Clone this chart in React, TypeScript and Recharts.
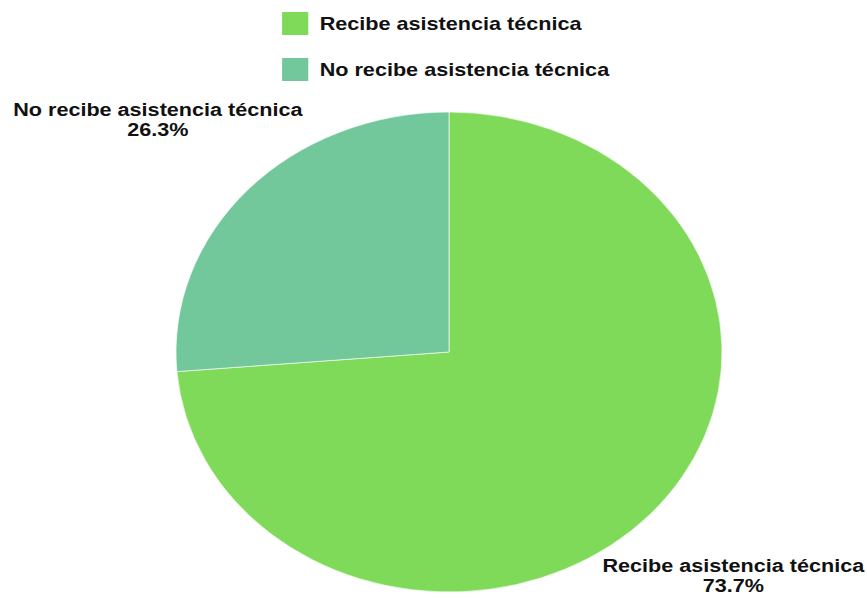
import React from 'react';
import { PieChart, Pie, Cell } from 'recharts';

const categories = ['Recibe asistencia técnica', 'No recibe asistencia técnica'];
const shares = [73.7, 26.3];
const COLORS = ['#7fda59', '#72c79b'];

const data = categories.map((name, i) => ({ name, value: shares[i] }));

// the reference is stretched sideways, so draw at a narrower width and scale X
const SX = 273 / 240;
const W = 763;
const H = 598;
const RADIAN = Math.PI / 180;
const FONT = '"Liberation Sans", Arial, sans-serif';

const renderLabel = (props: any) => {
  const { cx, cy, midAngle, name, percent } = props;
  const r = 344;
  const x = cx - 3 + r * Math.cos(-midAngle * RADIAN);
  const y = cy - 2 + r * Math.sin(-midAngle * RADIAN);
  // keep the lower label inside the picture
  const y2 = Math.min(y + 19, H - 6);
  const y1 = y2 - 20;
  return (
    <text x={x} y={y1} textAnchor="middle" fill="#111" fontFamily={FONT} fontSize={19} fontWeight="bold">
      <tspan x={x} y={y1}>{name}</tspan>
      <tspan x={x} y={y2}>{(percent * 100).toFixed(1)}%</tspan>
    </text>
  );
};

function ChartLegend() {
  return (
    <div style={{ position: 'absolute', top: 12, left: 248, fontFamily: FONT, fontSize: 19, fontWeight: 'bold', color: '#111' }}>
      {categories.map((name, i) => (
        <div key={`leg-${i}`} style={{ display: 'flex', alignItems: 'center', height: 23, marginBottom: 23 }}>
          <span style={{ display: 'inline-block', width: 23, height: 23, background: COLORS[i], marginRight: 10 }} />
          <span>{name}</span>
        </div>
      ))}
    </div>
  );
}

export default function App() {
  return (
    <div style={{ width: 867, height: H, overflow: 'hidden', background: '#fff' }}>
      <style>{'body { margin: 0; }'}</style>
      <div style={{ position: 'relative', width: W, height: H, transform: `scaleX(${SX})`, transformOrigin: '0 0' }}>
        <PieChart width={W} height={H} margin={{ top: 0, right: 0, bottom: 0, left: 0 }}>
          <Pie
            data={data}
            dataKey="value"
            nameKey="name"
            cx={449 / SX}
            cy={352}
            outerRadius={240}
            startAngle={90}
            endAngle={-270}
            stroke="#ffffff"
            strokeWidth={0.6}
            label={renderLabel}
            labelLine={false}
            isAnimationActive={false}
          >
            {data.map((entry, index) => (
              <Cell key={`cell-${index}`} fill={COLORS[index % COLORS.length]} />
            ))}
          </Pie>
        </PieChart>
        <ChartLegend />
      </div>
    </div>
  );
}
